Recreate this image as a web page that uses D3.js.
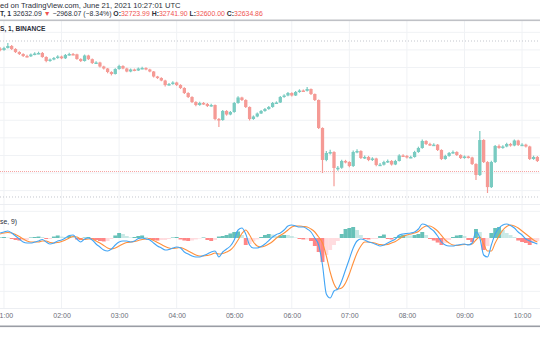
<!DOCTYPE html>
<html><head><meta charset="utf-8">
<script src="https://cdn.jsdelivr.net/npm/d3@7"></script>
<style>body{margin:0;background:#fff;}svg{display:block;font-family:"Liberation Sans",Arial,sans-serif;}</style>
</head><body>
<script>
// ---- data (4-minute bars, BTCUSDT 1m chart, 21 Jun 2021) ----
const startTime = Date.UTC(2021,5,21,0,56);
const barMinutes = 4;
const firstOpen = 35430;
const closes = [35398,35443,35489,35421,35352,35307,35262,35255,35296,35318,35330,35239,35148,35182,35216,35250,35210,35284,35307,35300,
35193,35148,35273,35190,35102,35114,35023,34977,34898,34852,34966,35034,34977,34909,34955,34932,34977,34989,34955,34909,
34795,34761,34704,34602,34625,34659,34602,34534,34420,34329,34215,34147,34193,34170,34125,34147,33829,33806,34011,33931,
33988,34193,34318,34261,34102,33829,33886,33954,34011,34056,34102,34193,34204,34329,34363,34420,34363,34443,34477,34470,
34511,34397,34261,33624,32897,33056,33078,32715,32720,32874,32851,32760,33078,33101,32942,32965,32897,32931,32783,32790,
32851,32874,32794,32874,32999,32988,32953,32965,33078,33170,33329,33260,33238,33245,33124,32919,32988,33056,33078,33010,
32942,32976,32953,32806,32555,33351,32850,32280,32851,33215,33170,33204,33260,33226,33340,33238,33245,33204,32919,32965,32874];
const highs = [35460,35470,35557,35510,35440,35370,35325,35290,35320,35345,35360,35350,35255,35205,35240,35280,35270,35305,35335,35330,
35315,35210,35295,35290,35205,35140,35130,35040,34990,34915,34985,35060,35050,34995,34975,34975,35000,35015,35005,34970,
34920,34810,34780,34720,34650,34685,34675,34620,34550,34440,34345,34230,34220,34215,34190,34175,34160,33850,34035,34030,
34010,34215,34345,34335,34280,34115,33910,33975,34035,34080,34125,34215,34230,34350,34390,34445,34440,34465,34505,34500,
34557,34525,34410,34275,33640,33100,33130,33095,32760,32900,32900,32870,33110,33140,33120,33000,32990,32960,32950,32830,
32880,32905,32895,32900,33025,33030,33010,32995,33105,33200,33360,33345,33290,33275,33260,33140,33015,33080,33110,33095,
33030,33000,32995,32970,32820,33556,33370,32870,32880,33240,33250,33230,33290,33285,33365,33355,33275,33265,33220,32995,32985];
const lows = [35370,35380,35430,35400,35330,35285,35240,35230,35240,35280,35300,35220,35120,35130,35165,35200,35190,35195,35265,35280,
35175,35125,35135,35170,35080,35085,35000,34955,34870,34820,34840,34950,34960,34890,34895,34915,34920,34960,34935,34890,
34775,34740,34685,34570,34585,34610,34580,34510,34400,34305,34190,34120,34130,34150,34100,34105,33800,33647,33790,33905,
33915,33970,34175,34240,34080,33795,33810,33870,33940,33995,34040,34085,34175,34190,34310,34345,34340,34350,34425,34450,
34455,34375,34240,33600,32601,32870,33020,32300,32650,32700,32820,32730,32740,33050,32920,32920,32870,32875,32755,32760,
32770,32830,32770,32780,32860,32965,32930,32935,32950,33060,33155,33240,33215,33220,33100,32895,32900,32970,33040,32990,
32920,32925,32930,32780,32442,32530,32830,32146,32260,32830,33150,33150,33185,33200,33210,33215,33220,33180,32895,32900,32850];
const macd = [37.5,45,52.5,37.5,15,-7.5,-30,-37.5,-37.5,-30,-22.5,-11,-30,-45,-37.5,-22.5,-15,0,19,22.5,
-7.5,-30,-7.5,0,-15,-45,-67.5,-90,-97.5,-82.5,-52.5,-30,-22.5,-22.5,-30,-22.5,-4,0,-7.5,-15,
-37.5,-60,-75,-90,-86,-75,-67.5,-75,-105,-120,-135,-142.5,-142.5,-131,-120,-105,-97.5,-142.5,-105,-82.5,
-60,-15,60,75,30,-52.5,-75,-75,-64,-45,-19,7.5,26,37.5,60,90,97.5,90,82.5,82.5,
67.5,45,0,-52.5,-202.5,-420,-450,-397.5,-382.5,-322.5,-240,-157.5,-75,-22.5,-7.5,-15,-30,-37.5,-49,-60,
-52.5,-37.5,-22.5,-7.5,22.5,30,34,37.5,45,67.5,105,97.5,75,52.5,15,-30,-52.5,-60,-60,-52.5,
-49,-45,-52.5,-37.5,45,0,-127.5,-142.5,-52.5,30,75,97.5,105,94,75,45,22.5,-7.5,-22.5,-34,-45];
const signal = [30,37.5,41,37.5,26,11,-7.5,-22.5,-30,-30,-30,-22.5,-22.5,-34,-37.5,-34,-26,-15,0,11,
7.5,-7.5,-11,-7.5,-7.5,-22.5,-37.5,-56,-75,-82.5,-75,-60,-45,-34,-30,-26,-19,-11,-7.5,-7.5,
-19,-34,-49,-64,-75,-79,-75,-71,-82.5,-97.5,-112.5,-127.5,-135,-135,-131,-124,-112.5,-120,-116,-105,
-90,-60,-15,34,60,22.5,-30,-60,-67.5,-60,-45,-26,0,19,37.5,60,82.5,90,90,86,
82.5,67.5,45,7.5,-37.5,-135,-255,-345,-382.5,-375,-337.5,-270,-187.5,-112.5,-60,-30,-30,-34,-41,-49,
-52.5,-49,-37.5,-26,-7.5,11,22.5,30,37.5,49,75,90,90,75,52.5,19,-15,-37.5,-52.5,-56,
-52.5,-49,-49,-45,-15,7.5,-45,-97.5,-97.5,-37.5,15,60,86,97.5,90,75,52.5,30,7.5,-15,-30];
const histogram = [4,7.5,4,-7.5,-15,-19,-19,-15,4,7.5,11,7.5,-7.5,-7.5,11,19,11,7.5,15,11,
-11,-15,4,7.5,-7.5,-15,-22.5,-26,-22.5,-7.5,19,37.5,30,15,4,7.5,15,19,7.5,-7.5,
-15,-19,-15,-15,-7.5,4,7.5,-11,-19,-22.5,-19,-11,-4,4,-15,-22.5,-15,11,15,22.5,
34,45,49,22.5,-52.5,-45,-26,-11,7.5,22.5,30,26,15,19,22.5,22.5,15,4,-7.5,-11,
-11,-22.5,-60,-105,-180,-127.5,-90,-52.5,-22.5,30,67.5,75,82.5,60,22.5,-7.5,-11,-7.5,-7.5,15,
26,-7.5,-11,7.5,19,22.5,22.5,19,22.5,30,45,22.5,-7.5,-19,-34,-52.5,-37.5,-15,7.5,19,
22.5,15,-15,-30,67.5,45,-90,-60,37.5,75,82.5,60,37.5,22.5,7.5,-19,-30,-37.5,-52.5,-37.5,-22.5];
const hourTicks = [1,2,3,4,5,6,7,8,9,10];
const priceTicks = [32200,32600,33000,33400,33800,34200,34600,35000,35400,35800];
const macdTicks = [200,-200,-400];
const prevDayClose = 35602.93;
const lastPrice = 32634.86;
const lowerDotted = 32055;

// ---- layout ----
const W = 540, H = 340;
const svg = d3.select("body").append("svg").attr("width", W).attr("height", H);
svg.append("rect").attr("width", W).attr("height", H).attr("fill", "#fff");

const times = closes.map((_, i) => new Date(startTime + i * barMinutes * 60000));
const x = d3.scaleUtc()
  .domain([new Date(startTime), new Date(Date.UTC(2021,5,21,10,19))])
  .range([0.16, 540.26]);
const y = d3.scaleLinear().domain([lastPrice, prevDayClose]).range([171.5, 41]);
const ym = d3.scaleLinear().domain([-525, 247.5]).range([308, 205]);

const gridColor = "#f0f2f5";
svg.append("g").selectAll("line").data(hourTicks).join("line")
  .attr("x1", h => x(Date.UTC(2021,5,21,h))).attr("x2", h => x(Date.UTC(2021,5,21,h)))
  .attr("y1", 21).attr("y2", 308).attr("stroke", gridColor).attr("stroke-width", 1);
svg.append("g").selectAll("line").data(priceTicks).join("line")
  .attr("x1", 0).attr("x2", W).attr("y1", d => y(d)).attr("y2", d => y(d))
  .attr("stroke", gridColor);
svg.append("g").selectAll("line").data(macdTicks).join("line")
  .attr("x1", 0).attr("x2", W).attr("y1", d => ym(d)).attr("y2", d => ym(d))
  .attr("stroke", gridColor);
svg.append("line").attr("x1",0).attr("x2",W).attr("y1",204.5).attr("y2",204.5).attr("stroke","#eceef2");
svg.append("line").attr("x1",0).attr("x2",W).attr("y1",308.5).attr("y2",308.5).attr("stroke","#eceef2");

svg.append("line").attr("x1",0).attr("x2",W).attr("y1",y(prevDayClose)).attr("y2",y(prevDayClose))
  .attr("stroke","#c3c6cd").attr("stroke-dasharray","1,2");
svg.append("line").attr("x1",0).attr("x2",W).attr("y1",y(lowerDotted)).attr("y2",y(lowerDotted))
  .attr("stroke","#c3c6cd").attr("stroke-dasharray","1,2");
svg.append("line").attr("x1",0).attr("x2",W).attr("y1",y(lastPrice)).attr("y2",y(lastPrice))
  .attr("stroke","#f7a6a4").attr("stroke-dasharray","1,1");

// candles
const upC = "#79cbc1", dnC = "#f59a95";
const opens = closes.map((c, i) => i === 0 ? firstOpen : closes[i - 1]);
const cg = svg.append("g");
const bw = 3.3;
closes.forEach((c, i) => {
  const o = opens[i], up = c >= o, col = up ? upC : dnC, cx = x(times[i]);
  cg.append("line").attr("x1", cx).attr("x2", cx).attr("y1", y(highs[i])).attr("y2", y(lows[i]))
    .attr("stroke", col).attr("stroke-width", 1.2);
  const top = y(Math.max(o, c)), bot = y(Math.min(o, c));
  cg.append("rect").attr("x", cx - bw / 2).attr("y", top).attr("width", bw)
    .attr("height", Math.max(1.5, bot - top)).attr("fill", col);
});

// histogram
const hg = svg.append("g");
const hw = 3.9;
histogram.forEach((h, i) => {
  const prev = i === 0 ? 0 : histogram[i - 1];
  let col;
  if (h >= 0) col = h > prev ? "#26a69a" : "#b2dfdb";
  else col = h < prev ? "#ff5252" : "#ffcdd2";
  const cx = x(times[i]);
  hg.append("rect").attr("x", cx - hw / 2).attr("width", hw)
    .attr("y", Math.min(ym(0), ym(h))).attr("height", Math.abs(ym(h) - ym(0)))
    .attr("fill", col).attr("opacity", 0.7);
});
const line = d3.line().x((d, i) => x(times[i])).y(d => ym(d)).curve(d3.curveMonotoneX);
svg.append("path").datum(signal).attr("d", line).attr("fill","none").attr("stroke","#ff8f3a").attr("stroke-width",1.1);
svg.append("path").datum(macd).attr("d", line).attr("fill","none").attr("stroke","#42a5f5").attr("stroke-width",1.1);

// time axis
const ax = svg.append("g").attr("transform", "translate(0,309)")
  .call(d3.axisBottom(x).tickValues(hourTicks.map(h => new Date(Date.UTC(2021,5,21,h))))
    .tickFormat(d3.utcFormat("%H:%M")).tickSize(0).tickPadding(4));
ax.select(".domain").remove();
ax.selectAll("text").attr("fill", "#6a6d78").attr("font-size", 7).attr("font-family", "Liberation Sans, Arial, sans-serif");

svg.append("rect").attr("x",0).attr("y",19.5).attr("width",W).attr("height",1.6).attr("fill","#bfc1c6");
svg.append("rect").attr("x",0).attr("y",325.5).attr("width",W).attr("height",1.6).attr("fill","#9a9da5");

svg.append("text").attr("x", 0).attr("y", 8).attr("font-size", 7.6).attr("fill", "#2a2e39")
  .text("ed on TradingView.com, June 21, 2021 10:27:01 UTC");
const t2 = svg.append("text").attr("x", 0).attr("y", 16).attr("font-size", 6.9).attr("fill", "#2a2e39");
const red = "#ef5350";
[["T, 1  ", "#2a2e39", 700], ["32632.09 ", "#2a2e39", 400], ["▼", red, 400], [" −2968.07 (−8.34%) ", "#2a2e39", 400],
 ["O:", "#2a2e39", 700], ["32723.99 ", red, 400], ["H:", "#2a2e39", 700], ["32741.90 ", red, 400],
 ["L:", "#2a2e39", 700], ["32600.00 ", red, 400], ["C:", "#2a2e39", 700], ["32634.86", red, 400]]
  .forEach(([s, c, w]) => t2.append("tspan").attr("fill", c).attr("font-weight", w).text(s));
svg.append("text").attr("x", 0).attr("y", 31).attr("font-size", 6.6).attr("font-weight", 700).attr("fill", "#2a2e39")
  .text("S, 1, BINANCE");
svg.append("text").attr("x", 0).attr("y", 224).attr("font-size", 6.8).attr("fill", "#2a2e39")
  .text("se, 9)");
</script>
</body></html>
